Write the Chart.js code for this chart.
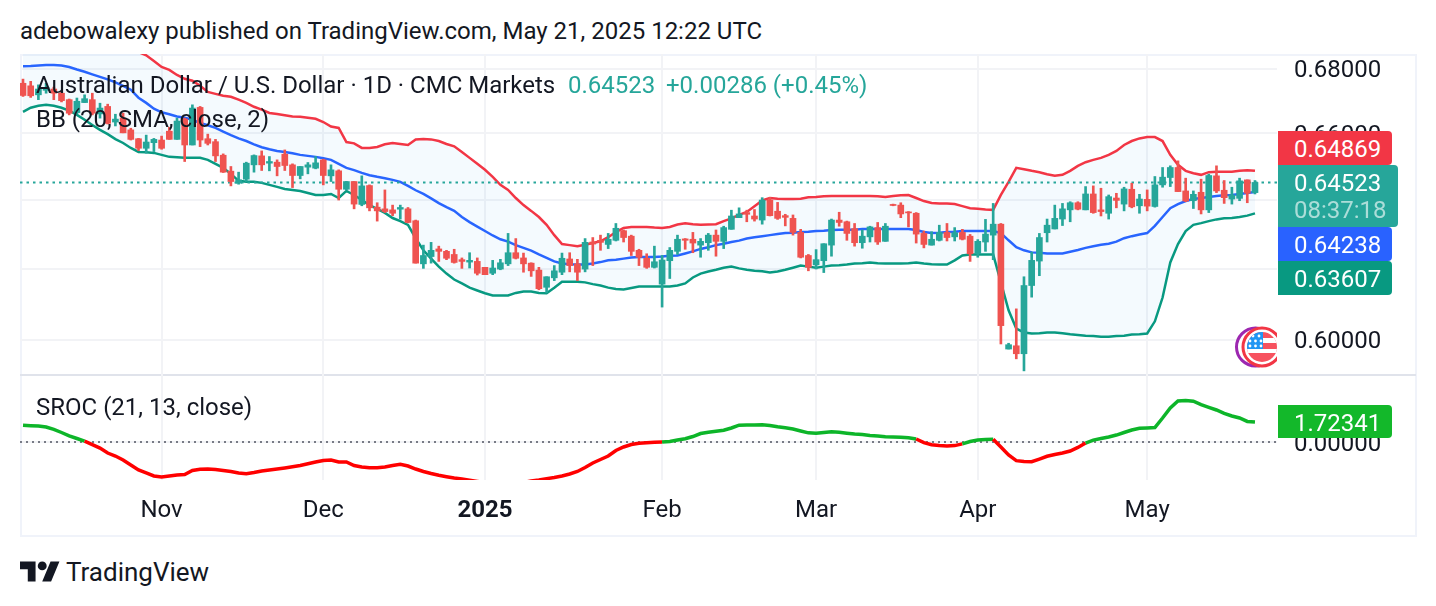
<!DOCTYPE html>
<html>
<head>
<meta charset="utf-8">
<title>AUD/USD daily</title>
<script src="https://cdn.jsdelivr.net/npm/chart.js@4/dist/chart.umd.min.js"></script>
<style>
  html, body { margin: 0; padding: 0; background: #fff; }
  body { width: 1436px; height: 606px; position: relative; overflow: hidden; font-family: Roboto, sans-serif; color: #131722; }
  .txt { position: absolute; white-space: nowrap; font-size: 24px; line-height: 28px; z-index: 5; }
  #frame { position: absolute; left: 20px; top: 54px; width: 1393px; height: 479px; border: 2px solid #f0f3fa; }
  #sep { position: absolute; left: 20px; top: 374px; width: 1396px; height: 2px; background: #e0e3eb; }
  .pane { position: absolute; left: 20px; z-index: 2; }
  .tag { position: absolute; left: 1278px; width: 114px; height: 34px; color: #fff; font-size: 24px; line-height: 36px; z-index: 6; border-radius: 0 4px 4px 0; box-sizing: border-box; padding-left: 16px; }
  #flag { position: absolute; left: 1230px; top: 322px; z-index: 4; }
  #logo { position: absolute; left: 20px; top: 557px; }
</style>
</head>
<body>
<div id="frame"></div>
<div id="sep"></div>
<div class="pane" style="top:54px"><canvas id="priceChart" width="1397" height="322"></canvas></div>
<div class="pane" style="top:376px"><canvas id="srocChart" width="1397" height="159"></canvas></div>

<div class="txt" style="left:20px;top:17px">adebowalexy published on TradingView.com, May 21, 2025 12:22 UTC</div>
<div class="txt" style="left:36px;top:71px">Australian Dollar / U.S. Dollar · 1D · CMC Markets</div>
<div class="txt" style="left:568px;top:71px;color:#26a69a">0.64523</div>
<div class="txt" style="left:666px;top:71px;color:#26a69a">+0.00286 (+0.45%)</div>
<div class="txt" style="left:36px;top:105px">BB (20, SMA, close, 2)</div>
<div class="txt" style="left:36px;top:393px">SROC (21, 13, close)</div>

<div class="tag" id="tagUpper" style="top:131px;background:#f23645"></div>
<div class="tag" id="tagClose" style="top:165px;width:120px;height:62px;background:#26a69a"></div>
<div class="txt" style="left:1294px;top:196px;color:rgba(255,255,255,.62);z-index:7">08:37:18</div>
<div class="tag" id="tagBasis" style="top:227px;background:#2962ff"></div>
<div class="tag" id="tagLower" style="top:261px;background:#089981"></div>
<div class="tag" id="tagSroc" style="top:405px;height:33px;background:#13b82a"></div>

<svg id="flag" width="47" height="50" viewBox="0 0 47 50">
  <defs><clipPath id="disc"><circle cx="32" cy="25" r="15"/></clipPath></defs>
  <circle cx="25.5" cy="25" r="19" fill="#fff" stroke="#9c27b0" stroke-width="3"/>
  <circle cx="32" cy="25" r="19" fill="#fff" stroke="#f23645" stroke-width="3"/>
  <g clip-path="url(#disc)">
    <rect x="17" y="10" width="30" height="30" fill="#f7525f"/>
    <rect x="17" y="16" width="30" height="5" fill="#fff"/>
    <rect x="17" y="27" width="30" height="4" fill="#fff"/>
    <rect x="17" y="10" width="16" height="17" fill="#2196f3"/>
    <g fill="#fff"><circle cx="23" cy="14" r="1.4"/><circle cx="29" cy="14" r="1.4"/><circle cx="20" cy="19" r="1.4"/><circle cx="25.5" cy="19" r="1.4"/><circle cx="31" cy="19" r="1.4"/><circle cx="20" cy="24" r="1.4"/><circle cx="25.5" cy="24" r="1.4"/><circle cx="31" cy="24" r="1.4"/></g>
  </g>
</svg>

<svg id="logo" width="40" height="28" viewBox="0 0 36 25.2" fill="#131722">
  <path d="M14 22H7V11H0V4h14v18zM28 22h-8l7.5-18h8L28 22z"/><circle cx="20" cy="8" r="4"/>
</svg>
<div class="txt" style="left:66px;top:558px;font-size:26px;color:#131722">TradingView</div>

<script>
// AUD/USD daily session values, 8 Oct 2024 to 21 May 2025
const opens = [
  .6755,.6747,.6719,.6733,.6737,.6724,.6704,.6664,.6695,.6704,
  .6660,.6683,.6635,.6647,.6611,.6584,.6555,.6572,.6580,.6607,
  .6582,.6644,.6565,.6680,.6584,.6575,.6534,.6486,.6450,.6462,
  .6505,.6532,.6510,.6513,.6537,.6505,.6473,.6498,.6495,.6520,
  .6472,.6487,.6432,.6455,.6387,.6443,.6379,.6374,.6371,.6373,
  .6374,.6339,.6214,.6235,.6257,.6250,.6241,.6226,.6219,.6221,
  .6204,.6187,.6199,.6214,.6246,.6231,.6216,.6196,.6147,.6174,
  .6190,.6228,.6214,.6199,.6277,.6282,.6270,.6282,.6310,.6294,
  .6253,.6230,.6204,.6156,.6223,.6250,.6286,.6285,.6268,.6275,
  .6297,.6279,.6314,.6348,.6363,.6353,.6341,.6400,.6367,.6354,
  .6346,.6305,.6238,.6211,.6223,.6268,.6341,.6336,.6316,.6275,
  .6292,.6319,.6279,.6387,.6385,.6365,.6361,.6302,.6268,.6282,
  .6305,.6292,.6305,.6294,.6243,.6277,.6297,.6329,.5974,.5983,
  .5961,.6152,.6222,.6304,.6315,.6344,.6371,.6392,.6371,.6418,
  .6371,.6361,.6406,.6388,.6432,.6383,.6402,.6381,.6445,.6467,
  .6497,.6427,.6398,.6423,.6371,.6472,.6429,.6403,.6405,.6460,
  .6422];
const highs = [
  .6768,.6761,.6750,.6755,.6743,.6730,.6706,.6709,.6719,.6724,
  .6693,.6690,.6659,.6662,.6616,.6585,.6595,.6585,.6592,.6619,
  .6647,.6647,.6688,.6683,.6598,.6582,.6538,.6500,.6483,.6513,
  .6535,.6547,.6530,.6520,.6550,.6508,.6500,.6512,.6530,.6522,
  .6505,.6490,.6455,.6455,.6472,.6445,.6392,.6430,.6385,.6385,
  .6378,.6341,.6268,.6276,.6265,.6253,.6256,.6231,.6246,.6231,
  .6204,.6224,.6227,.6302,.6287,.6245,.6217,.6204,.6177,.6209,
  .6245,.6246,.6227,.6287,.6290,.6297,.6302,.6331,.6312,.6297,
  .6256,.6243,.6265,.6238,.6261,.6297,.6287,.6305,.6287,.6302,
  .6312,.6323,.6370,.6377,.6370,.6372,.6407,.6408,.6393,.6358,
  .6356,.6314,.6241,.6255,.6272,.6344,.6364,.6338,.6331,.6312,
  .6323,.6334,.6331,.6388,.6392,.6366,.6363,.6309,.6307,.6326,
  .6331,.6319,.6314,.6299,.6284,.6343,.6390,.6331,.5990,.6086,
  .6177,.6248,.6302,.6344,.6385,.6390,.6395,.6395,.6440,.6442,
  .6435,.6415,.6420,.6438,.6450,.6417,.6430,.6470,.6497,.6502,
  .6517,.6465,.6427,.6462,.6477,.6502,.6458,.6438,.6465,.6460,
  .6458];
const lows = [
  .6714,.6711,.6704,.6724,.6704,.6697,.6657,.6660,.6695,.6657,
  .6647,.6629,.6623,.6602,.6580,.6548,.6540,.6545,.6552,.6582,
  .6582,.6515,.6565,.6560,.6565,.6515,.6482,.6442,.6447,.6455,
  .6483,.6488,.6487,.6472,.6488,.6437,.6463,.6478,.6493,.6445,
  .6455,.6400,.6430,.6374,.6383,.6368,.6338,.6363,.6354,.6344,
  .6333,.6216,.6201,.6216,.6221,.6226,.6216,.6201,.6202,.6182,
  .6183,.6183,.6197,.6209,.6228,.6190,.6178,.6140,.6131,.6166,
  .6183,.6191,.6166,.6191,.6209,.6253,.6258,.6280,.6277,.6238,
  .6209,.6201,.6202,.6091,.6172,.6241,.6256,.6246,.6233,.6253,
  .6236,.6258,.6314,.6348,.6336,.6338,.6329,.6353,.6343,.6324,
  .6297,.6231,.6194,.6199,.6189,.6236,.6323,.6282,.6265,.6259,
  .6277,.6270,.6279,.6383,.6348,.6321,.6274,.6260,.6268,.6280,
  .6280,.6280,.6283,.6221,.6233,.6250,.6226,.5988,.5974,.5947,
  .5914,.6119,.6180,.6277,.6315,.6325,.6336,.6371,.6371,.6361,
  .6353,.6344,.6377,.6368,.6377,.6361,.6368,.6379,.6438,.6440,
  .6425,.6395,.6375,.6359,.6363,.6422,.6390,.6388,.6398,.6392,
  .6418];
const closes = [
  .6717,.6716,.6737,.6742,.6724,.6701,.6662,.6699,.6707,.6662,
  .6678,.6631,.6644,.6602,.6582,.6555,.6574,.6582,.6555,.6582,
  .6638,.6565,.6678,.6580,.6570,.6532,.6483,.6455,.6460,.6510,
  .6533,.6505,.6515,.6500,.6503,.6473,.6500,.6505,.6511,.6473,
  .6490,.6432,.6455,.6388,.6442,.6377,.6368,.6366,.6361,.6378,
  .6334,.6216,.6238,.6253,.6250,.6230,.6218,.6221,.6224,.6187,
  .6183,.6202,.6217,.6246,.6230,.6214,.6194,.6143,.6177,.6194,
  .6230,.6209,.6190,.6276,.6271,.6276,.6285,.6317,.6290,.6250,
  .6233,.6204,.6220,.6225,.6253,.6285,.6282,.6274,.6279,.6297,
  .6279,.6319,.6353,.6359,.6358,.6344,.6400,.6354,.6346,.6349,
  .6305,.6233,.6204,.6226,.6272,.6341,.6334,.6302,.6275,.6294,
  .6321,.6277,.6323,.6384,.6359,.6362,.6300,.6270,.6285,.6305,
  .6290,.6304,.6285,.6243,.6279,.6300,.6329,.6039,.5986,.5961,
  .6152,.6224,.6290,.6326,.6346,.6374,.6392,.6373,.6418,.6363,
  .6366,.6410,.6399,.6433,.6380,.6403,.6382,.6445,.6468,.6497,
  .6425,.6397,.6417,.6371,.6473,.6427,.6407,.6415,.6457,.6420,
  .64523];

// Bollinger Bands (20, SMA, close, 2)
const bbUpper = [
  .7030,.7030,.7030,.7030,.7027,.7021,.7011,.6999,.6983,.6965,
  .6946,.6928,.6909,.6890,.6871,.6853,.6843,.6825,.6806,.6797,
  .6781,.6769,.6763,.6747,.6728,.6722,.6716,.6713,.6704,.6694,
  .6682,.6673,.6663,.6660,.6656,.6652,.6651,.6648,.6645,.6635,
  .6621,.6617,.6574,.6570,.6556,.6556,.6559,.6567,.6571,.6568,
  .6565,.6582,.6583,.6582,.6577,.6568,.6561,.6544,.6526,.6508,
  .6490,.6469,.6445,.6430,.6406,.6385,.6368,.6350,.6327,.6297,
  .6271,.6268,.6265,.6269,.6274,.6279,.6291,.6306,.6318,.6321,
  .6321,.6321,.6319,.6318,.6321,.6328,.6332,.6329,.6327,.6328,
  .6329,.6338,.6346,.6356,.6365,.6382,.6399,.6406,.6404,.6403,
  .6403,.6404,.6408,.6409,.6411,.6412,.6412,.6412,.6412,.6412,
  .6412,.6411,.6409,.6412,.6414,.6415,.6406,.6397,.6391,.6390,
  .6390,.6388,.6382,.6376,.6374,.6372,.6371,.6415,.6454,.6496,
  .6492,.6487,.6483,.6477,.6472,.6475,.6487,.6502,.6513,.6520,
  .6526,.6535,.6547,.6565,.6577,.6585,.6589,.6589,.6577,.6535,
  .6505,.6487,.6480,.6475,.6483,.6484,.6484,.6484,.6487,.6489,
  .64869];
const bbBasis = [
  .6808,.6809,.6811,.6812,.6812,.6811,.6806,.6798,.6791,.6783,
  .6775,.6767,.6758,.6747,.6735,.6710,.6694,.6676,.6665,.6659,
  .6652,.6648,.6642,.6632,.6625,.6617,.6606,.6595,.6585,.6577,
  .6567,.6558,.6552,.6547,.6544,.6540,.6535,.6532,.6529,.6525,
  .6520,.6508,.6496,.6489,.6481,.6474,.6469,.6465,.6460,.6454,
  .6442,.6429,.6418,.6405,.6391,.6379,.6368,.6350,.6335,.6322,
  .6309,.6296,.6285,.6278,.6268,.6260,.6252,.6241,.6231,.6221,
  .6215,.6213,.6212,.6212,.6215,.6219,.6224,.6226,.6229,.6232,
  .6234,.6234,.6234,.6235,.6237,.6238,.6244,.6250,.6257,.6262,
  .6268,.6272,.6277,.6281,.6287,.6291,.6294,.6297,.6300,.6303,
  .6304,.6306,.6307,.6309,.6310,.6312,.6313,.6313,.6313,.6315,
  .6315,.6315,.6315,.6315,.6315,.6315,.6312,.6306,.6303,.6304,
  .6306,.6307,.6309,.6309,.6309,.6309,.6309,.6303,.6282,.6262,
  .6253,.6247,.6246,.6244,.6244,.6244,.6249,.6254,.6260,.6265,
  .6269,.6272,.6278,.6288,.6294,.6299,.6303,.6324,.6350,.6376,
  .6388,.6397,.6403,.6406,.6409,.6412,.6414,.6415,.6418,.6421,
  .64238];
const bbLower = [
  .6666,.6679,.6685,.6688,.6685,.6679,.6670,.6657,.6642,.6626,
  .6611,.6598,.6583,.6571,.6556,.6544,.6543,.6541,.6535,.6529,
  .6528,.6526,.6526,.6526,.6520,.6508,.6496,.6478,.6457,.6454,
  .6454,.6451,.6445,.6439,.6433,.6430,.6427,.6421,.6415,.6415,
  .6418,.6406,.6427,.6415,.6400,.6385,.6374,.6362,.6347,.6338,
  .6327,.6288,.6253,.6229,.6206,.6186,.6169,.6158,.6146,.6138,
  .6130,.6124,.6124,.6124,.6131,.6135,.6135,.6131,.6130,.6146,
  .6163,.6163,.6163,.6161,.6156,.6152,.6146,.6142,.6141,.6145,
  .6149,.6149,.6149,.6149,.6149,.6152,.6158,.6175,.6186,.6192,
  .6197,.6203,.6206,.6201,.6197,.6194,.6193,.6189,.6192,.6197,
  .6203,.6209,.6206,.6203,.6206,.6209,.6210,.6212,.6215,.6216,
  .6218,.6216,.6215,.6215,.6215,.6216,.6218,.6215,.6213,.6212,
  .6212,.6224,.6238,.6241,.6241,.6241,.6241,.6161,.6082,.6031,
  .6020,.6017,.6018,.6020,.6020,.6018,.6015,.6013,.6011,.6010,
  .6008,.6008,.6010,.6011,.6014,.6015,.6017,.6051,.6118,.6218,
  .6271,.6309,.6327,.6332,.6338,.6343,.6346,.6347,.6350,.6354,
  .63607];

// Smoothed rate of change (21, 13, close)
const sroc = [
  1.45,1.41,1.38,1.29,1.09,.82,.53,.30,.07,-.22,
  -.52,-.95,-1.21,-1.55,-1.98,-2.41,-2.67,-2.93,-3.02,-2.93,
  -2.84,-2.80,-2.46,-2.35,-2.33,-2.37,-2.46,-2.54,-2.67,-2.73,
  -2.63,-2.50,-2.41,-2.33,-2.24,-2.14,-2.03,-1.88,-1.72,-1.59,
  -1.55,-1.72,-1.72,-2.03,-2.16,-2.22,-2.22,-2.16,-2.03,-1.92,
  -2.07,-2.33,-2.54,-2.72,-2.87,-2.99,-3.10,-3.19,-3.30,-3.40,
  -3.49,-3.58,-3.62,-3.62,-3.58,-3.49,-3.36,-3.28,-3.16,-3.06,
  -2.93,-2.76,-2.54,-2.20,-1.81,-1.51,-1.21,-.73,-.43,-.22,
  -.11,-.07,-.03,-.01,.04,.17,.28,.47,.73,.84,
  .93,1.01,1.21,1.45,1.47,1.47,1.49,1.42,1.31,1.22,
  1.12,.95,.79,.75,.82,.88,.84,.76,.69,.64,
  .57,.52,.46,.43,.41,.36,.26,-.05,-.24,-.31,
  -.34,-.31,-.16,.04,.17,.21,.23,-.43,-1.12,-1.61,
  -1.68,-1.70,-1.47,-1.23,-1.08,-.95,-.78,-.47,-.09,.16,
  .30,.43,.60,.82,1.03,1.18,1.21,1.25,2.07,2.93,
  3.53,3.58,3.52,3.22,2.99,2.76,2.47,2.24,2.07,1.77,
  1.72341];

// Axis ticks: session index of each month start, its label, and the price levels
const tickIndex = [18, 39, 60, 83, 103, 124, 146];
const tickLabels = ['Nov', 'Dec', '2025', 'Feb', 'Mar', 'Apr', 'May'];
const priceTicks = [0.60, 0.62, 0.64, 0.66, 0.68];
const srocTicks = [0];

const UP = '#26a69a', DOWN = '#ef5350';
Chart.defaults.font.family = 'Roboto, sans-serif';
Chart.defaults.color = '#131722';
Chart.defaults.animation = false;

const xMin = -0.39, xMax = 162.86;
const series = arr => arr.map((v, i) => ({ x: i, y: v }));
const level = v => [{ x: xMin, y: v }, { x: xMax, y: v }];
const candleColor = closes.map((c, i) => c >= opens[i] ? UP : DOWN);
const GRID = '#f2f3f6';

const xAxis = (showLabels) => ({
  type: 'linear', min: xMin, max: xMax, offset: false,
  afterBuildTicks: a => { a.ticks = tickIndex.map(v => ({ value: v })); },
  grid: { color: GRID, lineWidth: 2, drawTicks: false, offset: false },
  border: { display: false },
  afterFit: a => { a.height = showLabels ? 55 : 0; a.paddingLeft = 0; a.paddingRight = 0; },
  ticks: {
    display: showLabels, autoSkip: false, maxRotation: 0, padding: 17,
    callback: (v, i) => tickLabels[i],
    font: ctx => ({ size: 24, weight: ctx.index === 2 ? 'bold' : 'normal' }),
    color: '#131722'
  }
});
const yAxisBase = (ticks) => ({
  position: 'right',
  afterBuildTicks: a => { a.ticks = ticks.map(v => ({ value: v })); },
  afterFit: a => { a.width = 140; a.paddingTop = 0; a.paddingBottom = 0; },
  grid: { color: GRID, lineWidth: 2, drawTicks: false },
  border: { display: false },
  ticks: { autoSkip: false, padding: 17, labelOffset: 2.5, font: { size: 24 }, color: '#131722', callback: v => v.toFixed(5) }
});
const bandLine = (data, color) => ({
  type: 'line', data: series(data), borderColor: color, borderWidth: 2.5,
  pointRadius: 0, tension: 0, order: 5, fill: false
});

new Chart(document.getElementById('priceChart'), {
  type: 'bar',
  data: {
    datasets: [
      bandLine(bbLower, '#089981'),
      Object.assign(bandLine(bbUpper, '#f23645'), {
        fill: { target: 0, above: 'rgba(33,150,243,0.05)', below: 'rgba(33,150,243,0.05)' }
      }),
      bandLine(bbBasis, '#2962ff'),
      { type: 'line', data: level(closes[closes.length - 1]), borderColor: UP, borderWidth: 2,
        borderDash: [2.5, 4], pointRadius: 0, order: 4, fill: false },
      { label: 'wick', data: highs.map((h, i) => ({ x: i, y: [lows[i], h] })),
        backgroundColor: candleColor, barThickness: 2, grouped: false, order: 2 },
      { label: 'body', data: opens.map((o, i) => ({ x: i, y: [o, closes[i]] })),
        backgroundColor: candleColor, barThickness: 6, grouped: false, order: 1 }
    ]
  },
  options: {
    responsive: false,
    layout: { padding: 0 },
    plugins: { legend: { display: false }, tooltip: { enabled: false } },
    scales: {
      x: xAxis(false),
      y: Object.assign(yAxisBase(priceTicks), { type: 'logarithmic', min: 0.5901, max: 0.6847 })
    }
  }
});

new Chart(document.getElementById('srocChart'), {
  type: 'line',
  data: {
    datasets: [
      { data: level(0), borderColor: '#787b86', borderWidth: 2, borderDash: [2, 4], pointRadius: 0, order: 2 },
      { data: series(sroc), borderWidth: 3.5, pointRadius: 0, tension: 0, order: 1,
        borderColor: '#0db529',
        segment: { borderColor: c => c.p1.parsed.y < 0 ? '#ff0000' : '#0db529' } }
    ]
  },
  options: {
    responsive: false,
    layout: { padding: 0 },
    plugins: { legend: { display: false }, tooltip: { enabled: false } },
    scales: {
      x: xAxis(true),
      y: Object.assign(yAxisBase(srocTicks), { type: 'linear', min: -3.276, max: 5.69 })
    }
  }
});

// Price tags on the right-hand axis take their text from the last value of each series
const last = a => a[a.length - 1].toFixed(5);
document.getElementById('tagUpper').textContent = last(bbUpper);
document.getElementById('tagClose').textContent = last(closes);
document.getElementById('tagBasis').textContent = last(bbBasis);
document.getElementById('tagLower').textContent = last(bbLower);
document.getElementById('tagSroc').textContent = last(sroc);
</script>
</body>
</html>
